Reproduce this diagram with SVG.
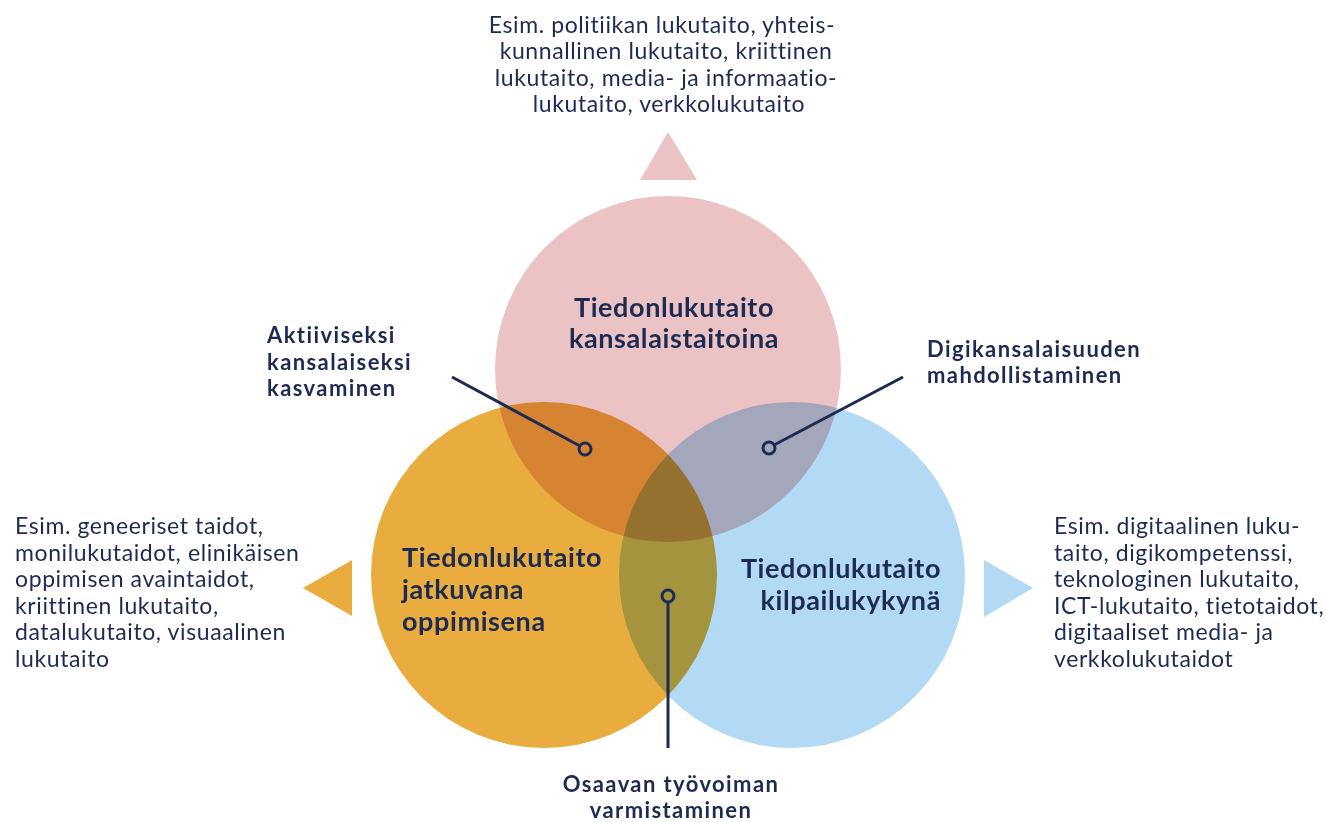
<svg xmlns="http://www.w3.org/2000/svg" width="1326" height="822" viewBox="0 0 1326 822">
<style>
.t{font-family:Lato,"Open Sans",sans-serif;fill:#1d2a52;font-variant-ligatures:none;font-feature-settings:"liga" 0,"clig" 0;}
.reg{font-size:23px;font-weight:400;letter-spacing:0.6px;}
.lbl{font-size:22px;font-weight:700;letter-spacing:1.4px;}
.big{font-size:27px;font-weight:700;letter-spacing:0.6px;}
.c{mix-blend-mode:multiply;}
.ln{stroke:#1d2a52;stroke-width:3;fill:none;}
</style>
<rect width="1326" height="822" fill="#ffffff"/>
<g style="isolation:isolate">
<g id="circle-pink"><circle class="c" cx="668" cy="369" r="173" fill="#ebc3c5"/></g>
<g id="circle-orange"><circle class="c" cx="544" cy="575" r="173" fill="#e9ad3f"/></g>
<g id="circle-blue"><circle class="c" cx="792" cy="575" r="173" fill="#b2daf4"/></g>
</g>
<g id="arrows">
<polygon points="668,132 697,180 640,180" fill="#ebc3c5"/>
<polygon points="303,588 352,560 352,616" fill="#e9ad3f"/>
<polygon points="1033,588 984,560 984,617" fill="#b2daf4"/>
</g>
<g id="connectors">
<line class="ln" x1="452" y1="377" x2="580" y2="446"/>
<circle class="ln" cx="585" cy="449" r="6"/>
<line class="ln" x1="903" y1="377" x2="774" y2="445"/>
<circle class="ln" cx="769" cy="448" r="6"/>
<line class="ln" x1="668" y1="602" x2="668" y2="748"/>
<circle class="ln" cx="668" cy="596" r="6"/>
</g>
<g id="label-pink">
<text class="t big" x="674" y="317" text-anchor="middle">Tiedonlukutaito</text>
<text class="t big" x="674" y="348" text-anchor="middle">kansalaistaitoina</text>
</g>
<g id="label-orange">
<text class="t big" x="402" y="567">Tiedonlukutaito</text>
<text class="t big" x="402" y="599">jatkuvana</text>
<text class="t big" x="402" y="631">oppimisena</text>
</g>
<g id="label-blue">
<text class="t big" x="941" y="578" text-anchor="end">Tiedonlukutaito</text>
<text class="t big" x="941" y="610" text-anchor="end">kilpailukykynä</text>
</g>
<g id="label-aktiiviseksi">
<text class="t lbl" x="267" y="343">Aktiiviseksi</text>
<text class="t lbl" x="267" y="370">kansalaiseksi</text>
<text class="t lbl" x="267" y="396">kasvaminen</text>
</g>
<g id="label-digikansalaisuus">
<text class="t lbl" x="927" y="357">Digikansalaisuuden</text>
<text class="t lbl" x="927" y="383">mahdollistaminen</text>
</g>
<g id="label-osaavan">
<text class="t lbl" x="671" y="792" text-anchor="middle">Osaavan työvoiman</text>
<text class="t lbl" x="671" y="818" text-anchor="middle">varmistaminen</text>
</g>
<g id="text-top">
<text class="t reg" x="662" y="33" text-anchor="middle">Esim. politiikan lukutaito, yhteis-</text>
<text class="t reg" x="666" y="59" text-anchor="middle">kunnallinen lukutaito, kriittinen</text>
<text class="t reg" x="666" y="86" text-anchor="middle">lukutaito, media- ja informaatio-</text>
<text class="t reg" x="669" y="112" text-anchor="middle">lukutaito, verkkolukutaito</text>
</g>
<g id="text-left">
<text class="t reg" x="15" y="534">Esim. geneeriset taidot,</text>
<text class="t reg" x="15" y="561">monilukutaidot, elinikäisen</text>
<text class="t reg" x="15" y="587">oppimisen avaintaidot,</text>
<text class="t reg" x="15" y="614">kriittinen lukutaito,</text>
<text class="t reg" x="15" y="640">datalukutaito, visuaalinen</text>
<text class="t reg" x="15" y="667">lukutaito</text>
</g>
<g id="text-right">
<text class="t reg" x="1054" y="534">Esim. digitaalinen luku-</text>
<text class="t reg" x="1054" y="561">taito, digikompetenssi,</text>
<text class="t reg" x="1054" y="587">teknologinen lukutaito,</text>
<text class="t reg" x="1054" y="614">ICT-lukutaito, tietotaidot,</text>
<text class="t reg" x="1054" y="640">digitaaliset media- ja</text>
<text class="t reg" x="1054" y="667">verkkolukutaidot</text>
</g>
</svg>
